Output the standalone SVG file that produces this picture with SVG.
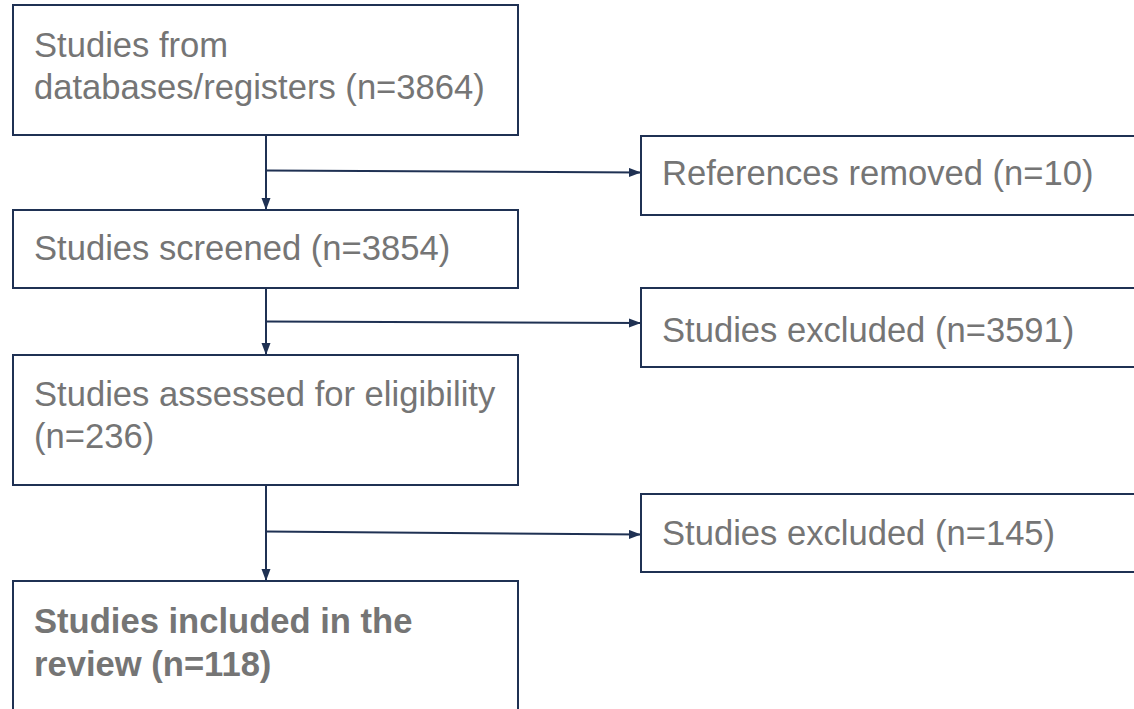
<svg xmlns="http://www.w3.org/2000/svg" width="1134" height="709" viewBox="0 0 1134 709">
  <style>
    .box { fill: #ffffff; stroke: #1f3153; stroke-width: 2; }
    .lbl { font-family: "Liberation Sans", Arial, sans-serif; font-size: 34.6px; fill: #757575; }
    .bold { font-weight: bold; }
    .conn { fill: none; stroke: #1f3153; stroke-width: 2; }
  </style>
  <defs>
    <marker id="arr" markerUnits="userSpaceOnUse" markerWidth="13" markerHeight="10" refX="12" refY="4.5" orient="auto">
      <path d="M0,0 L12,4.5 L0,9 z" fill="#1f3153"/>
    </marker>
  </defs>
  <rect width="1134" height="709" fill="#ffffff"/>

  <g id="connectors">
    <line class="conn" x1="266" y1="135" x2="266" y2="210" marker-end="url(#arr)"/>
    <line class="conn" x1="266" y1="170.5" x2="641" y2="172.5" marker-end="url(#arr)"/>
    <line class="conn" x1="266" y1="288" x2="266" y2="355" marker-end="url(#arr)"/>
    <line class="conn" x1="266" y1="321.5" x2="641" y2="323" marker-end="url(#arr)"/>
    <line class="conn" x1="266" y1="485" x2="266" y2="581" marker-end="url(#arr)"/>
    <line class="conn" x1="266" y1="531.5" x2="641" y2="534.5" marker-end="url(#arr)"/>
  </g>

  <g id="node-identified">
    <rect class="box" x="13" y="5" width="505" height="130"/>
    <text class="lbl" x="34" y="57">Studies from</text>
    <text class="lbl" x="34" y="99">databases/registers (n=3864)</text>
  </g>

  <g id="node-removed">
    <rect class="box" x="641" y="136" width="600" height="79"/>
    <text class="lbl" x="662" y="185">References removed (n=10)</text>
  </g>

  <g id="node-screened">
    <rect class="box" x="13" y="210" width="505" height="78"/>
    <text class="lbl" x="34" y="260">Studies screened (n=3854)</text>
  </g>

  <g id="node-excluded1">
    <rect class="box" x="641" y="288" width="600" height="79"/>
    <text class="lbl" x="662" y="342">Studies excluded (n=3591)</text>
  </g>

  <g id="node-assessed">
    <rect class="box" x="13" y="355" width="505" height="130"/>
    <text class="lbl" x="34" y="406">Studies assessed for eligibility</text>
    <text class="lbl" x="34" y="448">(n=236)</text>
  </g>

  <g id="node-excluded2">
    <rect class="box" x="641" y="494" width="600" height="78"/>
    <text class="lbl" x="662" y="545">Studies excluded (n=145)</text>
  </g>

  <g id="node-included">
    <rect class="box" x="13" y="581" width="505" height="160"/>
    <text class="lbl bold" x="34" y="633">Studies included in the</text>
    <text class="lbl bold" x="34" y="676">review (n=118)</text>
  </g>
</svg>
